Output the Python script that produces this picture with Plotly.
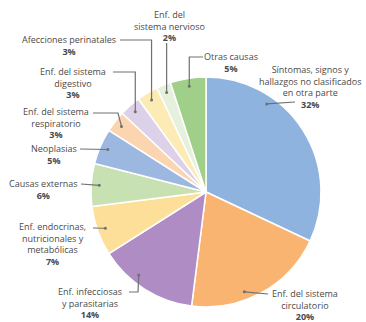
import math
import plotly.graph_objects as go

# Causes of death, share of total (%)
labels = [
    "Síntomas, signos y<br>hallazgos no clasificados<br>en otra parte",
    "Enf. del sistema<br>circulatorio",
    "Enf. infecciosas<br>y parasitarias",
    "Enf. endocrinas,<br>nutricionales y<br>metabólicas",
    "Causas externas",
    "Neoplasias",
    "Enf. del sistema<br>respiratorio",
    "Enf. del sistema<br>digestivo",
    "Afecciones perinatales",
    "Enf. del<br>sistema nervioso",
    "Otras causas",
]
values = [32, 20, 14, 7, 6, 5, 3, 3, 3, 2, 5]
colors = [
    "#8fb3df", "#f9b471", "#b08cc4", "#fddf9a", "#c8e1b3", "#9db8e0",
    "#fbd5b0", "#ddd1ea", "#fdebb6", "#e6f1dd", "#9fcf88",
]

W, H = 366, 322
CX, CY, R = 206, 192, 115  # pie centre and radius in pixels


def px(x, y):
    return x / W, 1 - y / H


# text block centre (px); leader start/elbow points (px);
# optional anchor angle (degrees clockwise from 12 o'clock)
label_layout = [
    dict(text=(310, 87), path=[(295, 102)], angle=34.6),
    dict(text=(305, 305), path=[(268, 294)], angle=159),
    dict(text=(90, 303), path=[(129, 292), (138, 292)], angle=219),
    dict(text=(52, 244), path=[(93, 228)]),
    dict(text=(43, 189), path=[(81, 184)]),
    dict(text=(54, 154), path=[(80, 149)]),
    dict(text=(56, 123.5), path=[(93, 113), (118, 113)]),
    dict(text=(73, 83), path=[(113, 72), ("a", 72)]),
    dict(text=(69, 45.5), path=[(120, 40), ("a", 40)]),
    dict(text=(169, 26), path=[("a", 43)]),
    dict(text=(231, 62), path=[(203, 57), ("a", 57)]),
]

fig = go.Figure()
fig.add_trace(go.Pie(
    labels=[l.replace("<br>", " ") for l in labels],
    values=values,
    sort=False,
    direction="clockwise",
    rotation=0,
    marker=dict(colors=colors, line=dict(color="white", width=1.5)),
    textinfo="none",
    showlegend=False,
    domain=dict(x=[(CX - R) / W, (CX + R) / W], y=[1 - (CY + R) / H, 1 - (CY - R) / H]),
))

total = sum(values)
shapes, annotations = [], []
start = 0.0
line_col = "#707070"
font = dict(family="Open Sans", size=9, color="#4a4a4a")
for lab, val, lay in zip(labels, values, label_layout):
    span = 360.0 * val / total
    ang = lay.get("angle", start + span / 2)
    start += span
    rr = 0.93 * R
    ax = CX + rr * math.sin(math.radians(ang))
    ay = CY - rr * math.cos(math.radians(ang))
    pts = [(ax if p[0] == "a" else p[0], p[1]) for p in lay["path"]] + [(ax, ay)]
    d = ""
    for i, (x, y) in enumerate(pts):
        fx, fy = px(x, y)
        d += ("M" if i == 0 else "L") + f"{fx:.5f},{fy:.5f} "
    shapes.append(dict(type="path", xref="paper", yref="paper", path=d,
                       line=dict(color=line_col, width=1.2), layer="above"))
    dx0, dy0 = px(ax - 1.5, ay + 1.5)
    dx1, dy1 = px(ax + 1.5, ay - 1.5)
    shapes.append(dict(type="circle", xref="paper", yref="paper",
                       x0=dx0, y0=dy0, x1=dx1, y1=dy1,
                       fillcolor=line_col, line=dict(width=0), layer="above"))
    tx, ty = px(*lay["text"])
    annotations.append(dict(
        x=tx, y=ty, xref="paper", yref="paper", showarrow=False,
        text=f"{lab}<br><b>{val}%</b>", align="center",
        xanchor="center", yanchor="middle", borderpad=0, font=font,
    ))

fig.update_layout(
    width=W, height=H,
    margin=dict(l=0, r=0, t=0, b=0),
    paper_bgcolor="white", plot_bgcolor="white",
    shapes=shapes, annotations=annotations,
)

fig.write_html("out.html")
